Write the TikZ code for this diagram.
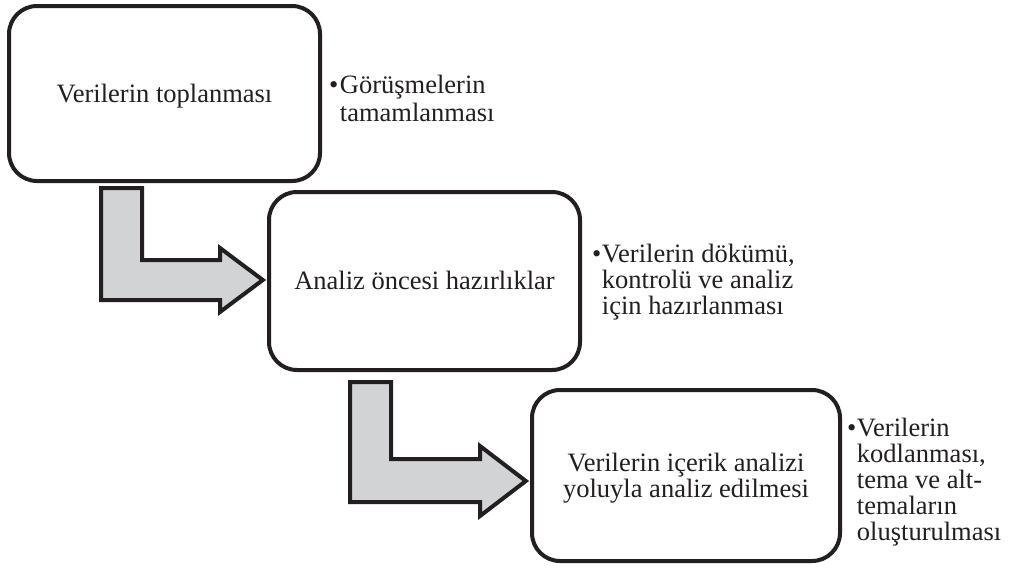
\documentclass[tikz,border=0pt]{standalone}
\usepackage{fontspec}
\setmainfont{Liberation Serif}
\usetikzlibrary{calc}
\definecolor{ink}{HTML}{231F20}
\definecolor{arrowfill}{HTML}{D1D3D4}
\newcommand\mainfs{\fontsize{26.5}{25.5}\selectfont}
\begin{document}
\begin{tikzpicture}[x=1pt,y=-1pt,
  box/.style={draw=ink, line width=4pt, rounded corners=28pt, fill=white,
    align=center, text=ink, font=\mainfs, inner sep=0pt, text depth=0pt},
  barrow/.style={draw=ink, fill=arrowfill, line width=4pt, line join=miter},
  note/.style={anchor=base west, inner sep=0pt, text=ink, font=\mainfs}]
\useasboundingbox (0,0) rectangle (1010,571);

% boxes positions (coordinates only, drawn after the arrows)
\coordinate (c1) at (164.5,93.5);
\coordinate (c2) at (424.5,281);
\coordinate (c3) at (686,475.5);

% invisible anchors of the boxes for the arrows
\node[minimum width=311pt, minimum height=175pt, inner sep=0pt] (b1p) at (c1) {};
\node[minimum width=311pt, minimum height=178pt, inner sep=0pt] (b2p) at (c2) {};
\node[minimum width=308pt, minimum height=171pt, inner sep=0pt] (b3p) at (c3) {};

% block arrows
\draw[barrow] ($(b1p.south)+(-63.5,7)$) -- ++(41,0) -- ++(0,72) -- (220,260)
  -- (220,248) -- ($(b2p.west)+(-6,-1)$) -- (220,312) -- (220,300)
  -- ($(b1p.south)+(-63.5,119)$) -- cycle;
\draw[barrow] ($(b2p.south)+(-74.5,12)$) -- ++(41,0) -- ++(0,77) -- (480,459)
  -- (480,446) -- ($(b3p.west)+(-6,5.5)$) -- (480,516) -- (480,502)
  -- ($(b2p.south)+(-74.5,132)$) -- cycle;

% boxes
\node[box, minimum width=311pt, minimum height=175pt] (b1) at (c1) {Verilerin toplanması};
\node[box, minimum width=311pt, minimum height=178pt] (b2) at (c2) {\raisebox{2pt}{Analiz öncesi hazırlıklar}};
\node[box, minimum width=308pt, minimum height=171pt] (b3) at (c3) {Verilerin içerik analizi\\yoluyla analiz edilmesi};

% notes
\node[note] (n1) at (329,93) {\begin{tabular}[t]{@{}l@{\hspace{1.5pt}}l@{}}\textbullet&Görüşmelerin\\[2.5pt]&tamamlanması\end{tabular}};
\node[note] (n2) at (592,262) {\begin{tabular}[t]{@{}l@{\hspace{0.5pt}}l@{}}\textbullet&Verilerin dökümü,\\&kontrolü ve analiz\\&için hazırlanması\end{tabular}};
\node[note] (n3) at (847,436) {\begin{tabular}[t]{@{}l@{\hspace{0.5pt}}l@{}}\textbullet&Verilerin\\&kodlanması,\\&tema ve alt-\\&temaların\\&oluşturulması\end{tabular}};
\end{tikzpicture}
\end{document}
